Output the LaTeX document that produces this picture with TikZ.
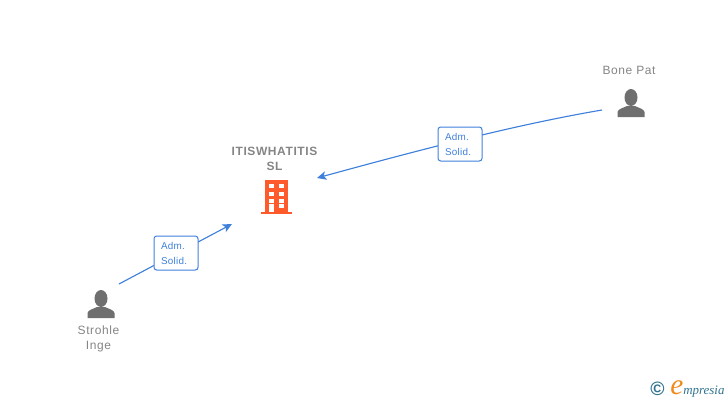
\documentclass[tikz,border=0pt]{standalone}
\usepackage{fontspec}
\setmainfont{Liberation Sans}
\newfontfamily\namefont[LetterSpace=5]{Liberation Sans}
\newfontfamily\rolefont[LetterSpace=3]{Liberation Sans}
\newfontfamily\logofont{Liberation Serif}
\usetikzlibrary{arrows.meta}
\definecolor{linkblue}{HTML}{3F80DC}
\definecolor{iconcolor}{HTML}{6F6F6F}
\definecolor{namecolor}{HTML}{858585}
\definecolor{firmcolor}{HTML}{FF5A2B}
\definecolor{logoteal}{HTML}{2F7290}
\definecolor{logoorange}{HTML}{F08A1D}
\tikzset{
    link/.style={draw=linkblue,line width=0.85pt,-{Stealth[length=7pt,width=6.5pt,inset=1.8pt]}},
    rolebox/.style={draw=linkblue,fill=white,line width=0.75pt,rounded corners=2pt,
        minimum width=33pt,minimum height=25.5pt,inner sep=0pt,text=linkblue,
        text width=22.5pt,font=\rolefont\fontsize{7.4}{11.25}\selectfont,align=left},
    personname/.style={text=namecolor,font=\namefont\fontsize{9}{11.25}\selectfont,align=center,inner sep=0pt},
    firmname/.style={text=namecolor,font=\namefont\bfseries\fontsize{9}{11.25}\selectfont,align=center,inner sep=0pt},
    person/.pic={
        \fill[iconcolor] (0,-19.5) ellipse (6.5 and 8.5);
        \fill[iconcolor] (-13.5,0) -- (-13.5,-5) .. controls (-13,-8) and (-8,-9) .. (-4,-11)
            -- (4,-11) .. controls (8,-9) and (13,-8) .. (13.5,-5) -- (13.5,0) -- cycle;
    },
    firm/.pic={
        \fill[firmcolor] (-15.5,0) rectangle (15.5,-2.5);
        \fill[firmcolor] (-11.5,-1) rectangle (11.5,-34);
        \foreach \y in {-30,-22.5,-15} {
            \fill[white] (-7.5,\y) rectangle (-3,\y+4);
            \fill[white] (2.8,\y) rectangle (7.5,\y+4);
        }
        \fill[white] (-7.5,-2.5) rectangle (-3,-10);
        \fill[white] (2.8,-6.5) rectangle (7.5,-10);
    }
}
\begin{document}
\begin{tikzpicture}[x=0.75pt,y=-0.75pt]
    \useasboundingbox (0,0) rectangle (728,400);
    % people and company
    \node[personname] (bonepat) at (629,70) {Bone Pat};
    \node[personname] (strohle) at (98.5,338.5) {Strohle\\Inge};
    \node[firmname] (company) at (274.5,158.5) {ITISWHATITIS\\SL};
    \pic at (631,117) {person};
    \pic at (101,318) {person};
    \pic at (276.5,214) {firm};
    % connector ends
    \coordinate (bonestart) at (602,110);
    \coordinate (bonestop) at (317,178);
    \coordinate (strohlestart) at (119,284);
    \coordinate (strohlestop) at (232,224);
    \draw[link] (bonestart) .. controls (520,124) and (430,147) .. (bonestop);
    \draw[link] (strohlestart) -- (strohlestop);
    \node[rolebox] (boneadm) at (460,144) {Adm.\\Solid.};
    \node[rolebox] (strohleadm) at (176,253) {Adm.\\Solid.};
    % logo
    \node[inner sep=0pt,text=logoteal,font=\bfseries\fontsize{14.5}{14.5}\selectfont] (copyr) at (657.5,389) {©};
    \node[inner sep=0pt,anchor=base,text=logoorange,font=\logofont\itshape\fontsize{22}{22}\selectfont] (logoe) at (677,394) {e};
    \node[inner sep=0pt,anchor=base west,text=logoteal,font=\logofont\itshape\fontsize{9.7}{9.7}\selectfont] (logotext) at (683,394) {mpresia};
\end{tikzpicture}
\end{document}
